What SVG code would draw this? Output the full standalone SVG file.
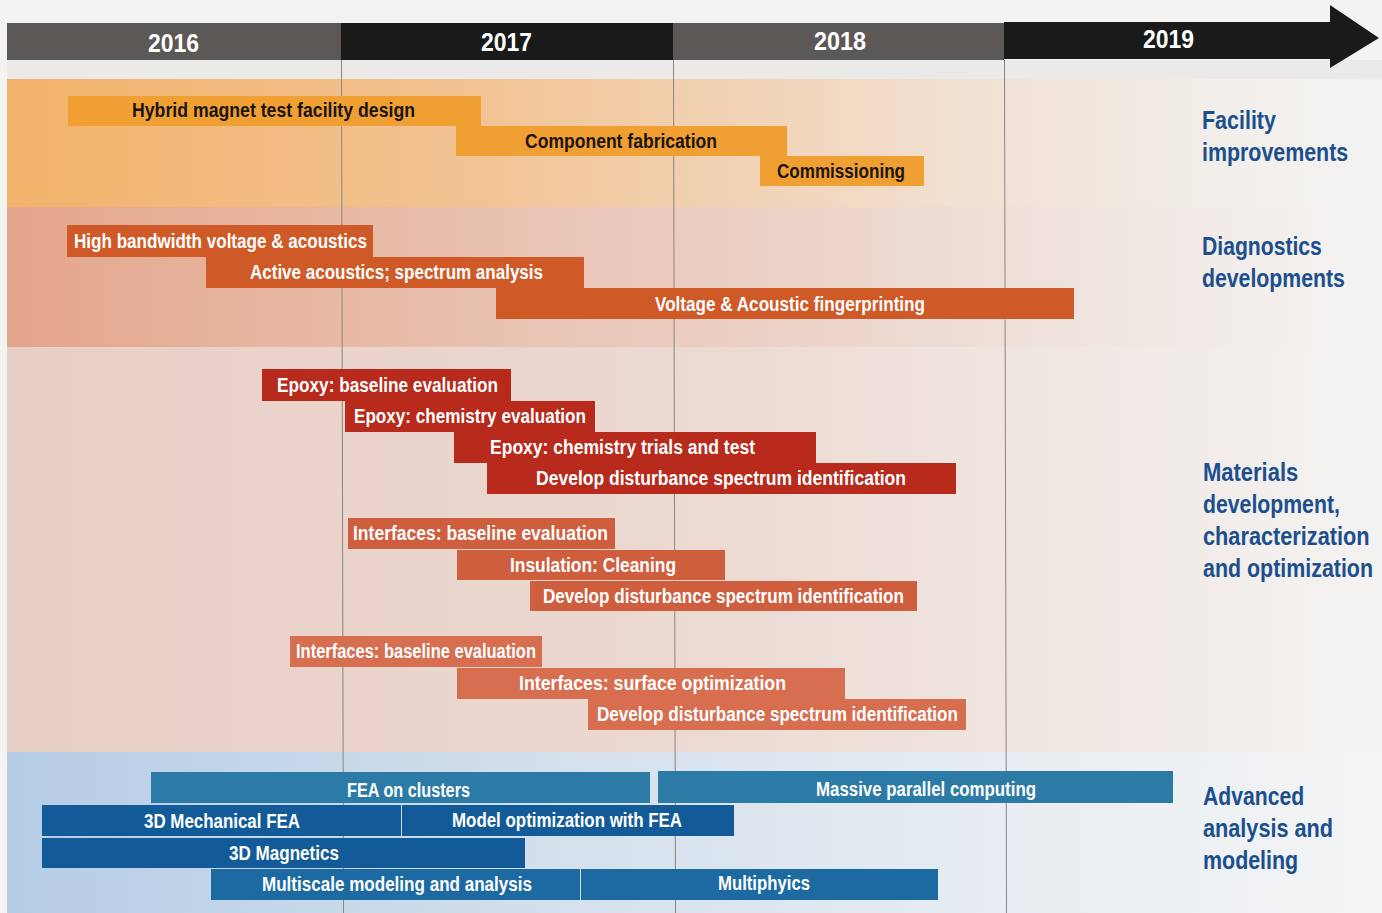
<svg xmlns="http://www.w3.org/2000/svg" width="1382" height="913" viewBox="0 0 1382 913">
<defs>
<linearGradient id="gFac" x1="0" y1="0" x2="1" y2="0">
<stop offset="0" stop-color="#f2b26a"/><stop offset="0.35" stop-color="#f2c495"/><stop offset="0.72" stop-color="#f1e2d6"/><stop offset="0.88" stop-color="#f2eeea"/><stop offset="1" stop-color="#f4f3f2"/>
</linearGradient>
<linearGradient id="gDia" x1="0" y1="0" x2="1" y2="0">
<stop offset="0" stop-color="#e4a68c"/><stop offset="0.35" stop-color="#e9c1b0"/><stop offset="0.72" stop-color="#eedfd8"/><stop offset="0.88" stop-color="#f2ece9"/><stop offset="1" stop-color="#f4f3f2"/>
</linearGradient>
<linearGradient id="gMat" x1="0" y1="0" x2="1" y2="0">
<stop offset="0" stop-color="#e8cfc6"/><stop offset="0.5" stop-color="#ecd9d1"/><stop offset="0.8" stop-color="#f1e9e5"/><stop offset="1" stop-color="#f4f3f2"/>
</linearGradient>
<linearGradient id="gAdv" x1="0" y1="0" x2="1" y2="0">
<stop offset="0" stop-color="#b5cde6"/><stop offset="0.4" stop-color="#d4e0ec"/><stop offset="0.75" stop-color="#e9eef3"/><stop offset="1" stop-color="#f3f4f5"/>
</linearGradient>
<style>
.bt{font-family:"Liberation Sans Narrow","Liberation Sans",Arial,sans-serif;font-weight:bold;font-size:20px;}
.dk{fill:#1c1410;}
.wh{fill:#ffffff;}
.yr{font-family:"Liberation Sans Narrow","Liberation Sans",Arial,sans-serif;font-weight:bold;font-size:26px;fill:#ffffff;}
.cat{font-family:"Liberation Sans Narrow","Liberation Sans",Arial,sans-serif;font-weight:bold;font-size:25px;fill:#1b4f8e;}
.fac{fill:#f0a032;}
.dia{fill:#cf5a28;}
.ep{fill:#b72a1c;}
.m2{fill:#cf5e3e;}
.m3{fill:#d76e50;}
.tl{fill:#2c7aa6;}
.db{fill:#135b98;}
.mb{fill:#1d6aa3;}
.grid{stroke:#8a8580;stroke-width:1;}
</style>
</defs>
<rect x="0" y="0" width="1382" height="913" fill="#f4f3f1"/>
<!-- bands -->
<rect x="7" y="60" width="1375" height="19" fill="#eceae8"/>
<rect x="7" y="79" width="1375" height="128" fill="url(#gFac)"/>
<rect x="7" y="207" width="1375" height="140" fill="url(#gDia)"/>
<rect x="7" y="347" width="1375" height="405" fill="url(#gMat)"/>
<rect x="7" y="752" width="1375" height="161" fill="url(#gAdv)"/>
<!-- header -->
<g id="timeline">
<rect x="7" y="23" width="334" height="37" fill="#5c5856"/>
<rect x="341" y="23" width="332" height="37" fill="#1a1a1a"/>
<rect x="673" y="23" width="331" height="37" fill="#5c5856"/>
<rect x="1004" y="22" width="328" height="37" fill="#1a1a1a"/>
<polygon points="1330,5 1379,38 1330,68" fill="#1a1a1a"/>
<text class="yr" x="148" y="52" textLength="51" lengthAdjust="spacingAndGlyphs">2016</text>
<text class="yr" x="481" y="51" textLength="51" lengthAdjust="spacingAndGlyphs">2017</text>
<text class="yr" x="814" y="50" textLength="52" lengthAdjust="spacingAndGlyphs">2018</text>
<text class="yr" x="1143" y="48" textLength="51" lengthAdjust="spacingAndGlyphs">2019</text>
</g>
<g id="gridlines">
<line class="grid" x1="341.5" y1="60" x2="343.5" y2="913"/>
<line class="grid" x1="673.5" y1="60" x2="675.5" y2="913"/>
<line class="grid" x1="1004.5" y1="60" x2="1006.5" y2="913"/>
</g>
<!-- Facility -->
<g id="fac1"><rect class="fac" x="68" y="96" width="413" height="30"/><text class="bt dk" x="132" y="117" textLength="283" lengthAdjust="spacingAndGlyphs">Hybrid magnet test facility design</text></g>
<g id="fac2"><rect class="fac" x="456" y="126" width="331" height="30"/><text class="bt dk" x="525" y="148" textLength="192" lengthAdjust="spacingAndGlyphs">Component fabrication</text></g>
<g id="fac3"><rect class="fac" x="760" y="156" width="164" height="30"/><text class="bt dk" x="777" y="178" textLength="128" lengthAdjust="spacingAndGlyphs">Commissioning</text></g>
<!-- Diagnostics -->
<g id="dia1"><rect class="dia" x="67" y="225" width="306" height="32"/><text class="bt wh" x="74" y="248" textLength="293" lengthAdjust="spacingAndGlyphs">High bandwidth voltage &amp; acoustics</text></g>
<g id="dia2"><rect class="dia" x="206" y="257" width="378" height="31"/><text class="bt wh" x="250" y="279" textLength="293" lengthAdjust="spacingAndGlyphs">Active acoustics; spectrum analysis</text></g>
<g id="dia3"><rect class="dia" x="496" y="288" width="578" height="31"/><text class="bt wh" x="655" y="311" textLength="270" lengthAdjust="spacingAndGlyphs">Voltage &amp; Acoustic fingerprinting</text></g>
<!-- Materials group 1 -->
<g id="mat1"><rect class="ep" x="262" y="369" width="249" height="32"/><text class="bt wh" x="277" y="392" textLength="221" lengthAdjust="spacingAndGlyphs">Epoxy: baseline evaluation</text></g>
<g id="mat2"><rect class="ep" x="345" y="401" width="250" height="31"/><text class="bt wh" x="354" y="423" textLength="232" lengthAdjust="spacingAndGlyphs">Epoxy: chemistry evaluation</text></g>
<g id="mat3"><rect class="ep" x="454" y="432" width="362" height="31"/><text class="bt wh" x="490" y="454" textLength="265" lengthAdjust="spacingAndGlyphs">Epoxy: chemistry trials and test</text></g>
<g id="mat4"><rect class="ep" x="487" y="463" width="469" height="31"/><text class="bt wh" x="536" y="485" textLength="370" lengthAdjust="spacingAndGlyphs">Develop disturbance spectrum identification</text></g>
<!-- Materials group 2 -->
<g id="mat5"><rect class="m2" x="348" y="518" width="267" height="31"/><text class="bt wh" x="353" y="540" textLength="255" lengthAdjust="spacingAndGlyphs">Interfaces: baseline evaluation</text></g>
<g id="mat6"><rect class="m2" x="457" y="550" width="268" height="30"/><text class="bt wh" x="510" y="572" textLength="166" lengthAdjust="spacingAndGlyphs">Insulation: Cleaning</text></g>
<g id="mat7"><rect class="m2" x="530" y="581" width="387" height="30"/><text class="bt wh" x="543" y="603" textLength="361" lengthAdjust="spacingAndGlyphs">Develop disturbance spectrum identification</text></g>
<!-- Materials group 3 -->
<g id="mat8"><rect class="m3" x="290" y="636" width="252" height="31"/><text class="bt wh" x="296" y="658" textLength="240" lengthAdjust="spacingAndGlyphs">Interfaces: baseline evaluation</text></g>
<g id="mat9"><rect class="m3" x="457" y="668" width="388" height="31"/><text class="bt wh" x="519" y="690" textLength="267" lengthAdjust="spacingAndGlyphs">Interfaces: surface optimization</text></g>
<g id="mat10"><rect class="m3" x="588" y="699" width="378" height="31"/><text class="bt wh" x="597" y="721" textLength="361" lengthAdjust="spacingAndGlyphs">Develop disturbance spectrum identification</text></g>
<!-- Advanced -->
<g id="adv1"><rect class="tl" x="151" y="772" width="499" height="31"/><text class="bt wh" x="347" y="797" textLength="123" lengthAdjust="spacingAndGlyphs">FEA on clusters</text></g>
<g id="adv2"><rect class="tl" x="658" y="771" width="515" height="32"/><text class="bt wh" x="816" y="796" textLength="220" lengthAdjust="spacingAndGlyphs">Massive parallel computing</text></g>
<g id="adv3"><rect class="db" x="42" y="805" width="359" height="31"/><text class="bt wh" x="144" y="828" textLength="156" lengthAdjust="spacingAndGlyphs">3D Mechanical FEA</text></g>
<g id="adv4"><rect class="db" x="402" y="805" width="332" height="31"/><text class="bt wh" x="452" y="827" textLength="230" lengthAdjust="spacingAndGlyphs">Model optimization with FEA</text></g>
<g id="adv5"><rect class="db" x="42" y="838" width="483" height="30"/><text class="bt wh" x="229" y="860" textLength="110" lengthAdjust="spacingAndGlyphs">3D Magnetics</text></g>
<g id="adv6"><rect class="mb" x="211" y="869" width="369" height="31"/><text class="bt wh" x="262" y="891" textLength="270" lengthAdjust="spacingAndGlyphs">Multiscale modeling and analysis</text></g>
<g id="adv7"><rect class="mb" x="581" y="869" width="357" height="31"/><text class="bt wh" x="718" y="890" textLength="92" lengthAdjust="spacingAndGlyphs">Multiphyics</text></g>
<!-- Category labels -->
<g id="catFacility" transform="translate(1202,0) scale(0.85,1)"><text class="cat" x="0" y="129" textLength="87" lengthAdjust="spacingAndGlyphs">Facility</text><text class="cat" x="0" y="161" textLength="172" lengthAdjust="spacingAndGlyphs">improvements</text></g>
<g id="catDiagnostics" transform="translate(1202,0) scale(0.85,1)"><text class="cat" x="0" y="255" textLength="141" lengthAdjust="spacingAndGlyphs">Diagnostics</text><text class="cat" x="0" y="287" textLength="168" lengthAdjust="spacingAndGlyphs">developments</text></g>
<g id="catMaterials" transform="translate(1203,0) scale(0.85,1)"><text class="cat" x="0" y="481" textLength="112" lengthAdjust="spacingAndGlyphs">Materials</text><text class="cat" x="0" y="513" textLength="161" lengthAdjust="spacingAndGlyphs">development,</text><text class="cat" x="0" y="545" textLength="196" lengthAdjust="spacingAndGlyphs">characterization</text><text class="cat" x="0" y="577" textLength="200" lengthAdjust="spacingAndGlyphs">and optimization</text></g>
<g id="catAdvanced" transform="translate(1203,0) scale(0.85,1)"><text class="cat" x="0" y="805" textLength="119" lengthAdjust="spacingAndGlyphs">Advanced</text><text class="cat" x="0" y="837" textLength="153" lengthAdjust="spacingAndGlyphs">analysis and</text><text class="cat" x="0" y="869" textLength="112" lengthAdjust="spacingAndGlyphs">modeling</text></g>
</svg>
